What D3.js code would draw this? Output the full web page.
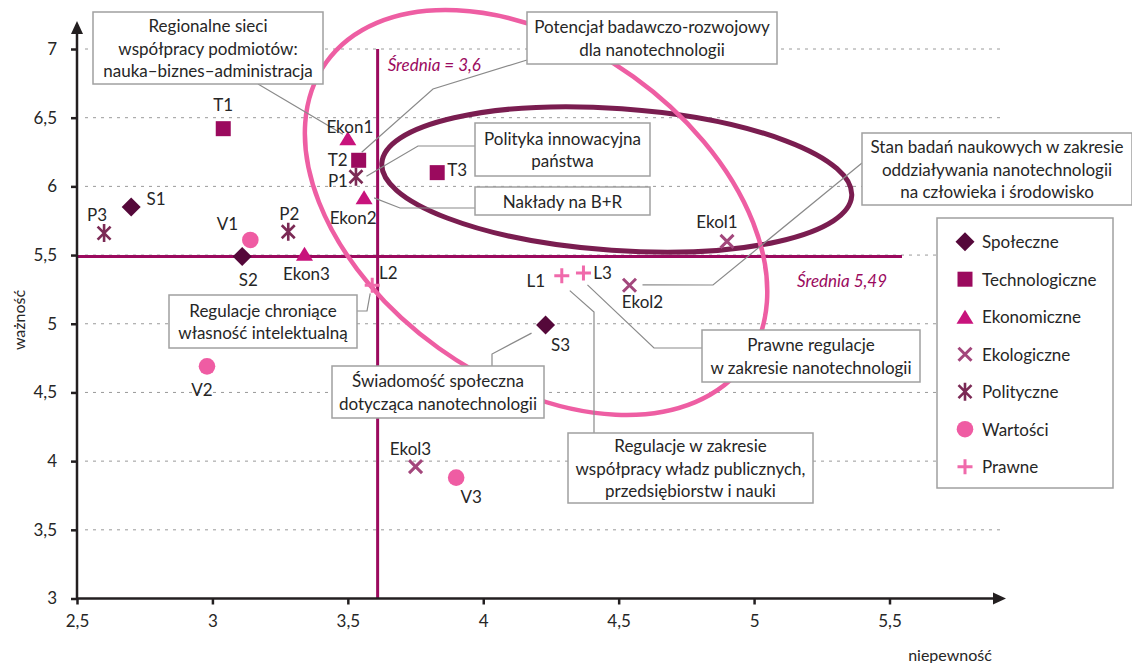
<!DOCTYPE html>
<html><head><meta charset="utf-8">
<script src="https://cdn.jsdelivr.net/npm/d3@7"></script>
<style>body{margin:0;background:#fff}svg text{font-family:Lato,"Open Sans",sans-serif}</style>
</head><body>
<svg id="chart" width="1132" height="663"></svg>
<script>
// ---------- DATA ----------
const categories = ["Społeczne","Technologiczne","Ekonomiczne","Ekologiczne","Polityczne","Wartości","Prawne"];
const pointNames    = ["S1","S2","S3","T1","T2","T3","Ekon1","Ekon2","Ekon3","Ekol1","Ekol2","Ekol3","P1","P2","P3","V1","V2","V3","L1","L2","L3"];
const pointCategory = [0,0,0,1,1,1,2,2,2,3,3,3,4,4,4,5,5,5,6,6,6];
const niepewnosc    = [2.70,3.11,4.23,3.04,3.54,3.83,3.50,3.56,3.34,4.90,4.54,3.75,3.53,3.28,2.60,3.14,2.98,3.90,4.29,3.59,4.37];
const waznosc       = [5.85,5.49,4.99,6.42,6.19,6.10,6.35,5.92,5.51,5.60,5.28,3.96,6.07,5.67,5.66,5.61,4.69,3.88,5.35,5.28,5.37];
const meanX = 3.61, meanXLabel = "Średnia = 3,6";
const meanY = 5.49, meanYLabel = "Średnia 5,49";
const xTicks = [2.5,3,3.5,4,4.5,5,5.5];
const yTicks = [3,3.5,4,4.5,5,5.5,6,6.5,7];
const xTitle = "niepewność", yTitle = "ważność";

// callout annotations (text + target point)
const calloutTexts = [
  ["Regionalne sieci","współpracy podmiotów:","nauka–biznes–administracja"],
  ["Potencjał badawczo-rozwojowy","dla nanotechnologii"],
  ["Polityka innowacyjna","państwa"],
  ["Nakłady na B+R"],
  ["Stan badań naukowych w zakresie","oddziaływania nanotechnologii","na człowieka i środowisko"],
  ["Regulacje chroniące","własność intelektualną"],
  ["Świadomość społeczna","dotycząca nanotechnologii"],
  ["Prawne regulacje","w zakresie nanotechnologii"],
  ["Regulacje w zakresie","współpracy władz publicznych,","przedsiębiorstw i nauki"]
];
const calloutTarget = ["Ekon1","T2","P1","Ekon2","Ekol2","L2","S3","L3","L1"];

// ---------- STYLE / LAYOUT ----------
const catColors = ["#55083a","#9b0a5e","#c8137c","#a3477c","#7b2a55","#ef5ca3","#f06aab"];
const catShapes = ["diamond","square","triangle","x","star","circle","plus"];
const labelOffsets = [[25,-8],[6,23],[15,19],[0,-24],[-21,-1],[20,-3],[2,-12],[-11,20],[2,20],[-10,-20],[13,16],[-5,-18],[-18,4],[1,-18],[-7,-19],[-23,-16],[-5,23],[15,19],[-26,5],[16,-13],[19,0]];
const boxes = [ // x,y,w,h in px
  [93,12,230,72],[527,12,250,52],[475,123,175,53],[475,187,175,28],
  [862,133,270,72],[169,295,188,53],[332,366,212,52],[702,330,218,52],[568,433,245,70]
];
const leaders = [ // polyline start points (px); last point anchored to target point + offset
  [[[258,84]],[-5,-4]],
  [[[527,60],[433,89]],[3,-8]],
  [[[475,146],[418,146]],[10.5,-0.5]],
  [[[475,208],[400,208]],[10,0.5]],
  [[[862,163],[713,285]],[13,-0.5]],
  [[[357,311],[367,311]],[-2,8]],
  [[[492,366],[492,354]],[-14,8]],
  [[[702,348],[654,348]],[4,12]],
  [[[594,433],[594,312]],[8,15]]
];

const svg = d3.select("#chart");
const x = d3.scaleLinear().domain([2.5,5.5]).range([77,889.5]);
const y = d3.scaleLinear().domain([3,7]).range([598.5,49]);
const fmt = d => String(d).replace(".",",");
const textColor = "#262626";
const FS = 17;

// grid lines
svg.append("g").selectAll("line").data(yTicks.filter(d=>d>3)).join("line")
  .attr("x1",85).attr("x2",1004).attr("y1",d=>y(d)).attr("y2",d=>y(d))
  .attr("stroke","#9a9a9a").attr("stroke-width",1).attr("stroke-dasharray","3,5");

// mean lines
svg.append("line").attr("x1",x(meanX)).attr("x2",x(meanX)).attr("y1",y(7)).attr("y2",y(3))
  .attr("stroke","#9b0a5e").attr("stroke-width",3);
svg.append("line").attr("x1",x(2.5)).attr("x2",902).attr("y1",y(meanY)).attr("y2",y(meanY))
  .attr("stroke","#9b0a5e").attr("stroke-width",3);
svg.append("text").attr("x",x(meanX)+10).attr("y",y(7)+15).attr("dominant-baseline","central")
  .attr("font-style","italic").attr("font-size",FS).attr("fill","#9b0a5e").text(meanXLabel);
svg.append("text").attr("x",797).attr("y",y(meanY)+24).attr("dominant-baseline","central")
  .attr("font-style","italic").attr("font-size",FS).attr("fill","#9b0a5e").text(meanYLabel);

// ellipses (centre in data units, radii px, rotation deg)
const ellipses = [
  {cx:4.493, cy:6.05, rx:235.5, ry:71, rot:4, color:"#7a1d50", w:5},
  {cx:4.195, cy:5.81, rx:258, ry:167, rot:35.6, color:"#ee5ea3", w:4.5}
];
svg.append("g").selectAll("ellipse").data(ellipses).join("ellipse")
  .attr("transform",d=>`translate(${x(d.cx)},${y(d.cy)}) rotate(${d.rot})`)
  .attr("rx",d=>d.rx).attr("ry",d=>d.ry).attr("fill","none")
  .attr("stroke",d=>d.color).attr("stroke-width",d=>d.w);

// axes
const gy = svg.append("g").attr("transform",`translate(${x(2.5)},0)`)
  .call(d3.axisLeft(y).tickValues(yTicks).tickFormat(fmt).tickSize(6).tickPadding(14).tickSizeOuter(0));
const gx = svg.append("g").attr("transform",`translate(0,${y(3)})`)
  .call(d3.axisBottom(x).tickValues(xTicks).tickFormat(fmt).tickSize(6).tickPadding(10).tickSizeOuter(0));
[gx,gy].forEach(g=>{
  g.select(".domain").remove();
  g.selectAll(".tick line").attr("stroke","#231f20").attr("stroke-width",2.5);
  g.selectAll(".tick text").attr("font-size",FS).attr("fill",textColor).attr("font-family","Lato");
});
svg.append("line").attr("x1",x(2.5)).attr("x2",x(2.5)).attr("y1",y(3)+1).attr("y2",30)
  .attr("stroke","#231f20").attr("stroke-width",2.5);
svg.append("path").attr("d",`M${x(2.5)},21 L${x(2.5)-6},34 L${x(2.5)+6},34Z`).attr("fill","#231f20");
svg.append("line").attr("x1",x(2.5)-1).attr("x2",996).attr("y1",y(3)).attr("y2",y(3))
  .attr("stroke","#231f20").attr("stroke-width",2.5);
svg.append("path").attr("d",`M1006,${y(3)} L993,${y(3)-6} L993,${y(3)+6}Z`).attr("fill","#231f20");

svg.append("text").attr("transform",`translate(18,320) rotate(-90)`).attr("text-anchor","middle")
  .attr("dominant-baseline","central").attr("font-size",FS-1).attr("fill",textColor).text(yTitle);
svg.append("text").attr("x",950).attr("y",654).attr("text-anchor","middle")
  .attr("dominant-baseline","central").attr("font-size",FS-1).attr("fill",textColor).text(xTitle);

// leader lines
const idx = n => pointNames.indexOf(n);
const lg = svg.append("g");
leaders.forEach((L,i)=>{
  const p = idx(calloutTarget[i]);
  const pts = L[0].concat([[x(niepewnosc[p])+L[1][0], y(waznosc[p])+L[1][1]]]);
  lg.append("path").attr("d",d3.line()(pts)).attr("fill","none").attr("stroke","#8a8a8a").attr("stroke-width",1.2);
});

// callout boxes
boxes.forEach((b,i)=>{
  const g = svg.append("g");
  g.append("rect").attr("x",b[0]).attr("y",b[1]).attr("width",b[2]).attr("height",b[3])
    .attr("fill","#fff").attr("stroke","#a0a0a0").attr("stroke-width",1.5);
  const lines = calloutTexts[i];
  const lh = 22.5;
  const cy0 = b[1]+b[3]/2 - (lines.length-1)*lh/2;
  lines.forEach((t,j)=>{
    g.append("text").attr("x",b[0]+b[2]/2).attr("y",cy0+j*lh).attr("text-anchor","middle")
      .attr("dominant-baseline","central").attr("font-size",FS).attr("fill",textColor).text(t);
  });
});

// symbols
function drawSymbol(g, shape, color){
  switch(shape){
    case "diamond": g.append("path").attr("d","M0,-9.5L9.5,0L0,9.5L-9.5,0Z").attr("fill",color); break;
    case "square": g.append("rect").attr("x",-7.5).attr("y",-7.5).attr("width",15).attr("height",15).attr("fill",color); break;
    case "triangle": g.append("path").attr("d","M0,-7L8.5,7L-8.5,7Z").attr("fill",color); break;
    case "x": g.append("path").attr("d","M-6.5,-6.5L6.5,6.5M-6.5,6.5L6.5,-6.5").attr("stroke",color).attr("stroke-width",3).attr("fill","none"); break;
    case "star": g.append("path").attr("d","M-6.5,-6.5L6.5,6.5M-6.5,6.5L6.5,-6.5M0,-9L0,9").attr("stroke",color).attr("stroke-width",2.6).attr("fill","none"); break;
    case "circle": g.append("circle").attr("r",8.3).attr("fill",color); break;
    case "plus": g.append("path").attr("d","M-7.5,0H7.5M0,-7.5V7.5").attr("stroke",color).attr("stroke-width",3).attr("fill","none"); break;
  }
}
const pg = svg.append("g");
pointNames.forEach((n,i)=>{
  const c = pointCategory[i];
  const g = pg.append("g").attr("transform",`translate(${x(niepewnosc[i])},${y(waznosc[i])})`);
  drawSymbol(g, catShapes[c], catColors[c]);
  pg.append("text").attr("x",x(niepewnosc[i])+labelOffsets[i][0]).attr("y",y(waznosc[i])+labelOffsets[i][1])
    .attr("text-anchor","middle").attr("dominant-baseline","central")
    .attr("font-size",FS).attr("fill",textColor).text(n);
});

// legend
const leg = svg.append("g");
leg.append("rect").attr("x",937).attr("y",218).attr("width",176).attr("height",270)
  .attr("fill","#fff").attr("stroke","#a0a0a0").attr("stroke-width",1.5);
categories.forEach((c,i)=>{
  const yy = 241.7 + i*37.5;
  const g = leg.append("g").attr("transform",`translate(965,${yy})`);
  drawSymbol(g, catShapes[i], catColors[i]);
  leg.append("text").attr("x",982).attr("y",yy).attr("dominant-baseline","central")
    .attr("font-size",FS).attr("fill",textColor).text(c);
});
</script>
</body></html>
